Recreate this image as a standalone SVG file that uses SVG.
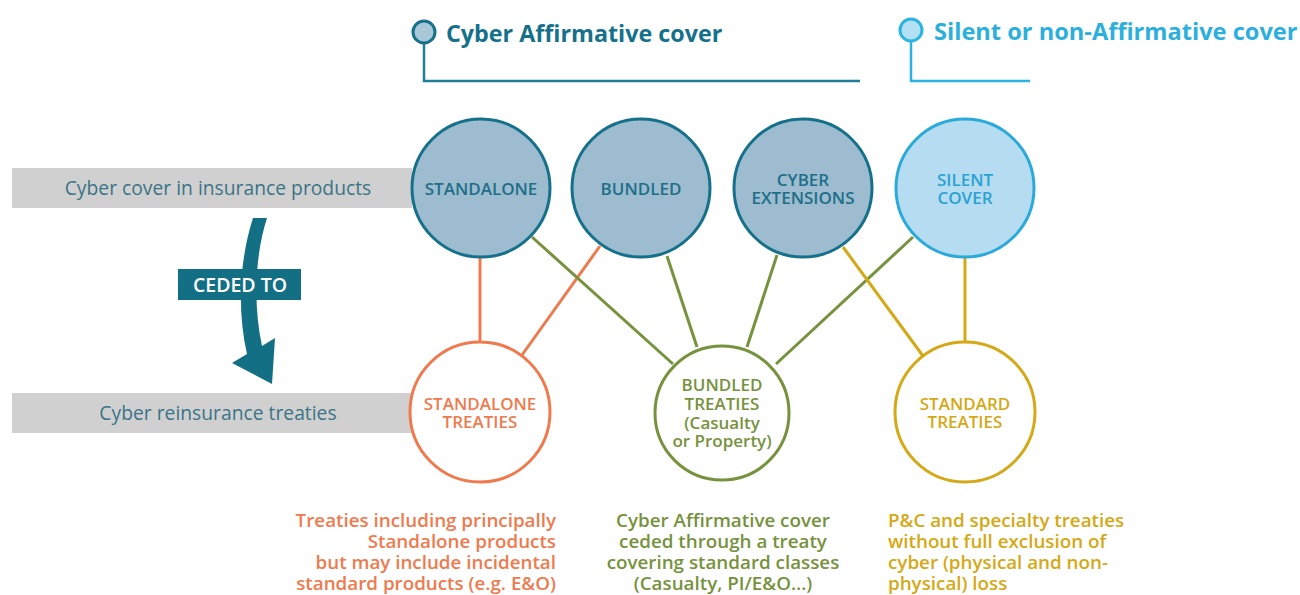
<svg xmlns="http://www.w3.org/2000/svg" width="1300" height="595" viewBox="0 0 1300 595">
<style>
text{font-family:"Open Sans","Noto Sans","Liberation Sans",sans-serif}
.aff{fill:#9dbcd0;stroke:#15718b;stroke-width:3}
.sil{fill:#b6dcf2;stroke:#2aaad8;stroke-width:3}
.tA{fill:#1d6f88;font-size:17px;font-weight:600;text-anchor:middle}
.tS{fill:#2aa3d2;font-size:17px;font-weight:600;text-anchor:middle}
.ct{font-size:17px;font-weight:600;text-anchor:middle}
.or{stroke:#ef7a4e}
.gr{stroke:#76923c}
.ye{stroke:#d5a815}
.bc{fill:#fff;stroke-width:3}
.lk{stroke-width:3;fill:none}
.bar{fill:#d0d0d0}
.bt{fill:#3b7487;font-size:19.3px;text-anchor:middle}
.desc{font-size:18.8px;font-weight:600}
</style>

<g id="legend-affirmative">
<path d="M424 43 V81 H860" fill="none" stroke="#1f7f99" stroke-width="2.5"/>
<circle cx="424" cy="32" r="11" fill="#a9c7d6" stroke="#15718b" stroke-width="3"/>
<text x="446" y="42" fill="#15718b" font-size="23.3" font-weight="700">Cyber Affirmative cover</text>
</g>
<g id="legend-silent">
<path d="M911 41 V81 H1030" fill="none" stroke="#2ab4e0" stroke-width="2.5"/>
<circle cx="911" cy="30" r="11" fill="#b4e0f3" stroke="#2ab4e0" stroke-width="3"/>
<text x="934" y="40" fill="#2bb0dd" font-size="23.6" font-weight="700">Silent or non-Affirmative cover</text>
</g>

<g id="bar-insurance">
<rect class="bar" x="12" y="168" width="400" height="40"/>
<text class="bt" x="218" y="195">Cyber cover in insurance products</text>
</g>
<g id="bar-reinsurance">
<rect class="bar" x="12" y="393" width="400" height="40"/>
<text class="bt" x="218" y="420">Cyber reinsurance treaties</text>
</g>

<g id="ceded-arrow">
<path d="M253 218 C241 255 236 305 247 354 L232 363 L272 384 L275 338 L262 346 C253 305 255 255 267 218 Z" fill="#136f84"/>
<rect x="178" y="269" width="123" height="31" fill="#136f84"/>
<text x="240" y="292" fill="#fff" font-size="19.5" font-weight="600" text-anchor="middle">CEDED TO</text>
</g>

<g id="connectors">
<line class="lk or" x1="480" y1="258" x2="480" y2="342"/>
<line class="lk or" x1="600" y1="246" x2="522" y2="355"/>
<line class="lk gr" x1="532" y1="237" x2="673" y2="364"/>
<line class="lk gr" x1="667" y1="256" x2="697" y2="347"/>
<line class="lk gr" x1="777" y1="255" x2="747" y2="347"/>
<line class="lk gr" x1="913" y1="237" x2="776" y2="364"/>
<line class="lk ye" x1="843" y1="247" x2="923" y2="356"/>
<line class="lk ye" x1="965" y1="258" x2="965" y2="342"/>
</g>

<g id="standalone">
<circle class="aff" cx="481" cy="188" r="69"/>
<text class="tA" x="481" y="195">STANDALONE</text>
</g>
<g id="bundled">
<circle class="aff" cx="641" cy="188" r="69"/>
<text class="tA" x="641" y="195">BUNDLED</text>
</g>
<g id="cyber-extensions">
<circle class="aff" cx="803" cy="188" r="69"/>
<text class="tA" x="803" y="186">CYBER<tspan x="803" dy="18">EXTENSIONS</tspan></text>
</g>
<g id="silent-cover">
<circle class="sil" cx="965" cy="188" r="69"/>
<text class="tS" x="965" y="186">SILENT<tspan x="965" dy="18">COVER</tspan></text>
</g>

<g id="standalone-treaties" fill="#ef7a4e">
<circle class="bc or" cx="480" cy="412" r="70"/>
<text class="ct" x="480" y="410">STANDALONE<tspan x="480" dy="18">TREATIES</tspan></text>
</g>
<g id="bundled-treaties" fill="#76923c">
<circle class="bc gr" cx="722" cy="413" r="67"/>
<text class="ct" x="722" y="391">BUNDLED<tspan x="722" dy="19">TREATIES</tspan><tspan x="722" dy="19">(Casualty</tspan><tspan x="722" dy="18">or Property)</tspan></text>
</g>
<g id="standard-treaties" fill="#d5a815">
<circle class="bc ye" cx="965" cy="412" r="70"/>
<text class="ct" x="965" y="410">STANDARD<tspan x="965" dy="18">TREATIES</tspan></text>
</g>

<g id="desc-standalone" fill="#ef7a4e">
<text class="desc" x="556" y="527" text-anchor="end">Treaties including principally<tspan x="556" dy="21">Standalone products</tspan><tspan x="556" dy="21">but may include incidental</tspan><tspan x="556" dy="21">standard products (e.g. E&amp;O)</tspan></text>
</g>
<g id="desc-bundled" fill="#76923c">
<text class="desc" x="723" y="527" text-anchor="middle">Cyber Affirmative cover<tspan x="723" dy="21">ceded through a treaty</tspan><tspan x="723" dy="21">covering standard classes</tspan><tspan x="723" dy="21">(Casualty, PI/E&amp;O…)</tspan></text>
</g>
<g id="desc-standard" fill="#d5a815">
<text class="desc" x="888" y="527">P&amp;C and specialty treaties<tspan x="888" dy="21">without full exclusion of</tspan><tspan x="888" dy="21">cyber (physical and non-</tspan><tspan x="888" dy="21">physical) loss</tspan></text>
</g>
</svg>
